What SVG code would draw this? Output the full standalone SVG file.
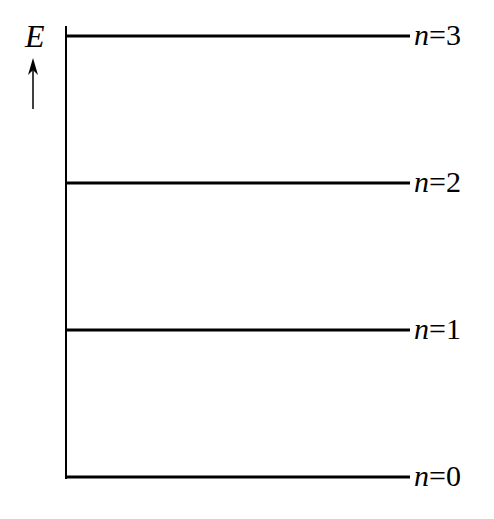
<svg xmlns="http://www.w3.org/2000/svg" width="494" height="519" viewBox="0 0 494 519">
<style>
.lvl{stroke:#000;stroke-width:3;fill:none}
.ax{stroke:#000;stroke-width:2;fill:none}
.it{font-style:italic}
</style>
<rect width="494" height="519" fill="#fff"/>
<g id="connectors">
<line class="ax" x1="66" y1="26" x2="66" y2="479"/>
<path d="M33,109 L33,68" stroke="#000" stroke-width="1.5" fill="none"/>
<path d="M33,58 L38,75 L33,70 L28,75 z" fill="#000"/>
</g>
<g font-family="Liberation Serif, Times New Roman, serif" font-size="30" fill="#000">
<g id="axis-label"><text class="it" x="25" y="47" font-size="32">E</text></g>
<g id="level3"><line class="lvl" x1="66" y1="36" x2="410" y2="36"/><text x="414" y="45"><tspan class="it">n</tspan>=3</text></g>
<g id="level2"><line class="lvl" x1="66" y1="183" x2="410" y2="183"/><text x="414" y="192"><tspan class="it">n</tspan>=2</text></g>
<g id="level1"><line class="lvl" x1="66" y1="330" x2="410" y2="330"/><text x="414" y="339"><tspan class="it">n</tspan>=1</text></g>
<g id="level0"><line class="lvl" x1="66" y1="477" x2="410" y2="477"/><text x="414" y="486"><tspan class="it">n</tspan>=0</text></g>
</g>
</svg>
